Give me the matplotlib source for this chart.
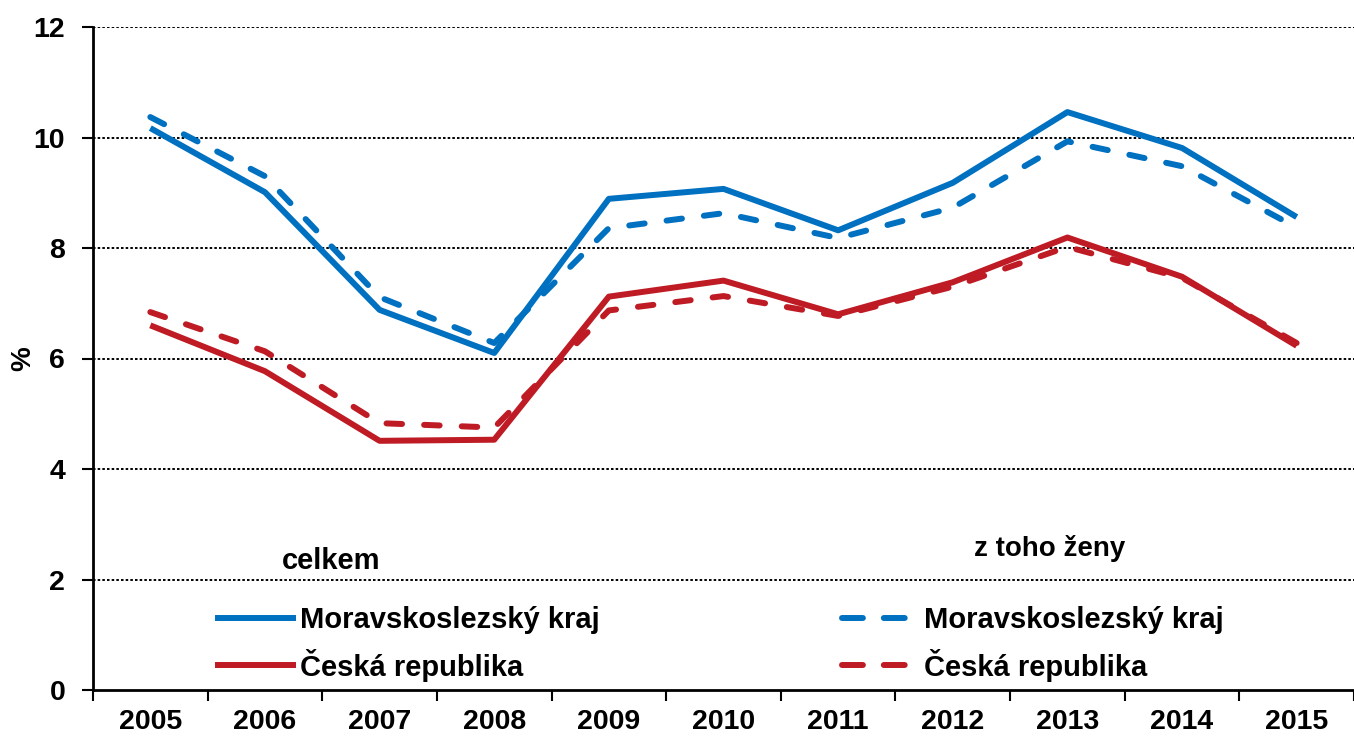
import matplotlib
matplotlib.use('Agg')
import matplotlib.pyplot as plt
from matplotlib.lines import Line2D

plt.rcParams['font.family'] = ['Liberation Sans', 'DejaVu Sans']
plt.rcParams['font.weight'] = 'bold'

# data
years = ['2005', '2006', '2007', '2008', '2009', '2010', '2011', '2012', '2013', '2014', '2015']
msk_total = [10.17, 9.01, 6.88, 6.10, 8.89, 9.07, 8.32, 9.18, 10.46, 9.81, 8.56]
cr_total = [6.60, 5.77, 4.51, 4.53, 7.12, 7.41, 6.80, 7.38, 8.19, 7.48, 6.23]
msk_women = [10.37, 9.30, 7.11, 6.28, 8.36, 8.63, 8.18, 8.73, 9.93, 9.48, 8.37]
cr_women = [6.84, 6.13, 4.83, 4.75, 6.87, 7.13, 6.77, 7.30, 8.02, 7.46, 6.28]
y_ticks = [0, 2, 4, 6, 8, 10, 12]

blue = '#0070C0'
red = '#BE1B25'

W, H = 1354, 741
fig = plt.figure(figsize=(W / 100, H / 100), dpi=100)
ax = fig.add_axes([93 / W, 1 - 690 / H, (W - 93) / W, (690 - 27) / H])

x = list(range(len(years)))
lw = 4.3
dash = (2.6, 3.7)

ax.plot(x, msk_total, color=blue, lw=lw, solid_capstyle='butt', solid_joinstyle='round', zorder=4)
ax.plot(x, cr_total, color=red, lw=lw, solid_capstyle='butt', solid_joinstyle='round', zorder=4)
ax.plot(x, msk_women, color=blue, lw=lw, dashes=dash, dash_capstyle='round', zorder=5)
ax.plot(x, cr_women, color=red, lw=lw, dashes=dash, dash_capstyle='round', zorder=5)

# grid lines
for v in y_ticks[1:]:
    ax.axhline(v, color='black', lw=1.4, ls=(0, (1.3, 1.1)), zorder=1)

ax.set_ylim(0, 12)
ax.set_xlim(-0.5, 10.37)
ax.set_yticks(y_ticks)
ax.set_yticklabels([str(v) for v in y_ticks], fontsize=20.5, fontweight='bold')
ax.tick_params(axis='y', direction='out', length=8, width=1.5, pad=12)

# x ticks between categories, labels at centres
ax.set_xticks([i - 0.5 for i in range(len(years) + 1)])
ax.set_xticklabels([])
ax.tick_params(axis='x', which='major', direction='out', length=8, width=1.5)
ax.set_xticks(x, minor=True)
ax.set_xticklabels(years, minor=True, fontsize=20.5, fontweight='bold')
ax.tick_params(axis='x', which='minor', length=0, pad=14)

for s in ['top', 'right']:
    ax.spines[s].set_visible(False)
ax.spines['left'].set_linewidth(2)
ax.spines['bottom'].set_linewidth(2)

ax.set_ylabel('%', fontsize=20, fontweight='bold')
ax.yaxis.set_label_coords(-(93 - 36) / (W - 93), 0.5)

# legend
handles = [
    Line2D([], [], color=blue, lw=lw),
    Line2D([], [], color=red, lw=lw),
    Line2D([], [], color=blue, lw=lw, dashes=(3.5, 3.5), dash_capstyle='round'),
    Line2D([], [], color=red, lw=lw, dashes=(3.5, 3.5), dash_capstyle='round'),
]
labels = ['Moravskoslezský kraj', 'Česká republika', 'Moravskoslezský kraj', 'Česká republika']
leg = ax.legend(handles, labels, ncol=2, frameon=False, loc='upper left',
                bbox_to_anchor=(218 / W, 1 - 606 / H), bbox_transform=fig.transFigure,
                borderpad=0, borderaxespad=0, handlelength=2.57, handletextpad=0.24,
                columnspacing=8.3, labelspacing=0.5,
                prop={'size': 21, 'weight': 'bold'})

fig.text(331 / W, 1 - 561 / H, 'celkem', fontsize=21, fontweight='bold', ha='center', va='center')
fig.text(1050 / W, 1 - 549 / H, 'z toho ženy', fontsize=20, fontweight='bold', ha='center', va='center')

fig.savefig('out.png', dpi=100)
